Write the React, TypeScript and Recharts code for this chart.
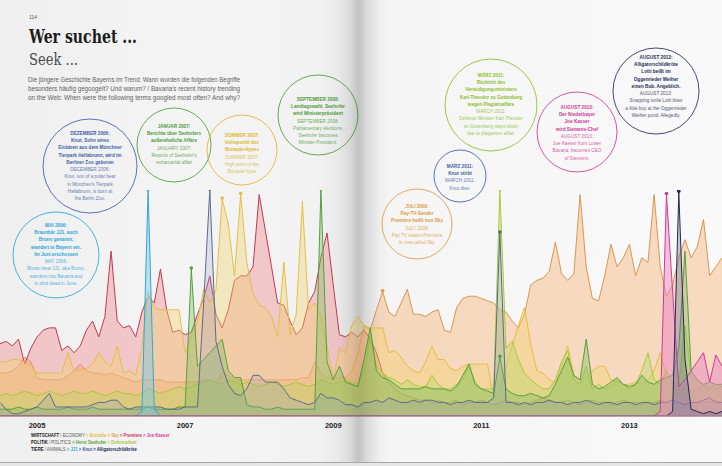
import React from "react";
import { ComposedChart, Area, XAxis, YAxis } from "recharts";

// monthly index: 0 = Jul 2004 ... 117 = Apr 2014
const yearTicks = [6, 30, 54, 78, 102];
const yearLabels = ["2005", "2007", "2009", "2011", "2013"];

const premiere = [
  32, 33, 31, 34, 23, 30, 35, 38, 39, 39,
  29, 31, 28, 31, 38, 42, 35, 44, 73, 42,
  39, 40, 35, 46, 53, 50, 65, 47, 37, 38,
  36, 37, 45, 52, 62, 45, 39, 47, 60, 62,
  62, 66, 98, 82, 66, 50, 49, 42, 36, 39,
  50, 55, 70, 81, 58, 36, 35, 37, 35, 38,
  34, 28, 19, 15, 12, 10, 9, 8, 7, 7,
  6, 7, 6, 6, 7, 5, 6, 6, 7, 6,
  5, 6, 7, 6, 6, 5, 6, 7, 8, 7,
  6, 6, 7, 6, 5, 6, 7, 6, 6, 5,
  6, 7, 6, 6, 5, 6, 6, 7, 6, 5,
  6, 5, 6, 5, 6, 6, 7, 6,
];

const sky = [
  19, 19, 20, 22, 26, 24, 17, 16, 16, 16,
  16, 18, 20, 23, 20, 19, 19, 18, 19, 18,
  17, 16, 15, 16, 16, 16, 16, 15, 15, 15,
  15, 15, 15, 16, 16, 15, 19, 18, 16, 16,
  16, 16, 16, 16, 16, 16, 16, 16, 16, 17,
  17, 24, 19, 17, 16, 17, 17, 20, 28, 40,
  38, 47, 55, 46, 44, 50, 56, 45, 45, 44,
  46, 47, 38, 37, 48, 52, 53, 53, 52, 51,
  50, 47, 46, 42, 39, 45, 58, 60, 61, 64,
  77, 63, 60, 63, 98, 66, 52, 51, 62, 76,
  66, 70, 76, 62, 70, 68, 98, 66, 53, 58,
  70, 78, 70, 75, 87, 62, 66, 70,
];

const bionade = [
  24, 24, 25, 25, 24, 22, 19, 19, 19, 19,
  19, 28, 20, 20, 21, 23, 28, 24, 22, 31,
  19, 20, 18, 30, 55, 48, 47, 47, 47, 47,
  28, 35, 42, 56, 50, 56, 96, 85, 62, 98,
  68, 54, 49, 48, 44, 35, 68, 36, 45, 95,
  47, 50, 44, 31, 16, 30, 28, 40, 44, 40,
  39, 39, 39, 28, 29, 26, 22, 20, 19, 24,
  31, 25, 25, 21, 20, 22, 23, 23, 23, 23,
  8, 12, 22, 31, 40, 48, 32, 20, 19, 16,
  15, 22, 31, 18, 16, 17, 20, 22, 22, 16,
  15, 14, 14, 15, 14, 16, 20, 28, 18, 14,
  12, 12, 11, 12, 13, 12, 12, 13,
];

const seehofer = [
  3, 3, 3, 4, 3, 3, 4, 3, 3, 3,
  3, 4, 3, 3, 3, 4, 3, 3, 3, 3,
  3, 3, 3, 3, 4, 3, 3, 3, 3, 4,
  4, 65, 22, 25, 28, 31, 34, 20, 17, 17,
  5, 4, 4, 3, 3, 4, 3, 3, 3, 3,
  3, 3, 100, 24, 16, 22, 15, 14, 13, 25,
  39, 20, 17, 16, 14, 12, 12, 12, 12, 13,
  12, 12, 12, 11, 13, 18, 23, 14, 12, 11,
  10, 26, 12, 10, 9, 9, 10, 9, 8, 9,
  14, 20, 26, 18, 16, 34, 14, 12, 13, 15,
  17, 14, 13, 14, 18, 15, 14, 16, 17, 18,
  30, 73, 20, 16, 14, 15, 14, 14,
];

const doktorarbeit = [
  9, 10, 9, 10, 11, 10, 9, 10, 11, 10,
  9, 10, 11, 10, 10, 11, 10, 9, 10, 11,
  10, 10, 9, 10, 12, 11, 10, 11, 12, 13,
  12, 13, 14, 15, 16, 15, 14, 16, 15, 14,
  15, 14, 13, 14, 15, 14, 13, 14, 15, 14,
  13, 14, 16, 15, 14, 15, 16, 15, 14, 20,
  35, 22, 19, 17, 16, 14, 16, 14, 13, 13,
  18, 14, 12, 12, 14, 16, 22, 15, 12, 12,
  12, 100, 30, 33, 25, 19, 16, 14, 12, 12,
  16, 24, 29, 16, 14, 22, 12, 14, 12, 13,
  16, 14, 12, 14, 20, 28, 16, 14, 20, 15,
  14, 40, 18, 15, 14, 13, 14, 13,
];

const knut = [
  6, 3, 1, 1, 2, 3, 4, 7, 10, 4,
  4, 4, 4, 4, 4, 5, 6, 6, 7, 7,
  4, 3, 4, 4, 4, 4, 4, 3, 3, 3,
  4, 4, 4, 50, 100, 33, 22, 14, 10, 9,
  12, 18, 18, 15, 15, 15, 12, 8, 7, 6,
  5, 6, 10, 8, 8, 7, 5, 5, 4, 6,
  6, 7, 6, 8, 7, 6, 6, 7, 6, 7,
  7, 6, 6, 5, 6, 6, 7, 6, 6, 6,
  8, 81, 6, 6, 5, 6, 5, 6, 6, 7,
  6, 6, 5, 6, 6, 7, 6, 5, 6, 6,
  5, 6, 6, 5, 6, 6, 5, 6, 6, 7,
  6, 5, 6, 6, 7, 8, 6, 6,
];

const jj1 = [
  0, 0, 0, 0, 0, 0, 0, 0, 0, 0,
  0, 0, 0, 0, 0, 0, 0, 0, 0, 0,
  0, 0, 0, 2, 100, 3, 0, 0, 0, 0,
  0, 0, 0, 0, 0, 0, 0, 0, 0, 0,
  0, 0, 0, 0, 0, 0, 0, 0, 0, 0,
  0, 0, 0, 0, 0, 0, 0, 0, 0, 0,
  0, 0, 0, 0, 0, 0, 0, 0, 0, 0,
  0, 0, 0, 0, 0, 0, 0, 0, 0, 0,
  0, 0, 0, 0, 0, 0, 0, 0, 0, 0,
  0, 0, 0, 0, 0, 0, 0, 0, 0, 0,
  0, 0, 0, 0, 0, 0, 0, 0, 0, 0,
  0, 0, 0, 0, 0, 0, 0, 0,
];

const kaeser = [
  0, 0, 0, 0, 0, 0, 0, 0, 0, 0,
  0, 0, 0, 0, 0, 0, 0, 0, 0, 0,
  0, 0, 0, 0, 0, 0, 0, 0, 0, 0,
  0, 0, 0, 0, 0, 0, 0, 0, 0, 0,
  0, 0, 0, 0, 0, 0, 0, 0, 0, 0,
  0, 0, 0, 0, 0, 0, 0, 0, 0, 0,
  0, 0, 0, 0, 0, 0, 0, 0, 0, 0,
  0, 0, 0, 0, 0, 0, 0, 0, 0, 0,
  0, 0, 0, 0, 0, 0, 0, 0, 0, 0,
  0, 0, 0, 0, 0, 0, 0, 0, 0, 0,
  0, 0, 0, 0, 0, 0, 0, 2, 98, 55,
  13, 16, 20, 24, 28, 15, 27, 22,
];

const alligator = [
  0, 0, 0, 0, 0, 0, 0, 0, 0, 0,
  0, 0, 0, 0, 0, 0, 0, 0, 0, 0,
  0, 0, 0, 0, 0, 0, 0, 0, 0, 0,
  0, 0, 0, 0, 0, 0, 0, 0, 0, 0,
  0, 0, 0, 0, 0, 0, 0, 0, 0, 0,
  0, 0, 0, 0, 0, 0, 0, 0, 0, 0,
  0, 0, 0, 0, 0, 0, 0, 0, 0, 0,
  0, 0, 0, 0, 0, 0, 0, 0, 0, 0,
  0, 0, 0, 0, 0, 0, 0, 0, 0, 0,
  0, 0, 0, 0, 0, 0, 0, 0, 0, 0,
  0, 0, 0, 0, 0, 0, 0, 0, 0, 2,
  99, 25, 3, 2, 1, 2, 1, 2,
];

// months that carry a little marker dot
const markers: Record<string, number[]> = {
  jj1: [24],
  knut: [34, 81],
  bionade: [36, 39],
  seehofer: [31, 52, 81],
  doktor: [81],
  sky: [62],
  kaeser: [108],
  alligator: [110],
};

const series = [
  { key: "sky", values: sky, stroke: "#d9974f", fill: "#f5b47a", op: 0.45 },
  { key: "premiere", values: premiere, stroke: "#c23a52", fill: "#ee8a92", op: 0.42 },
  { key: "bionade", values: bionade, stroke: "#e4bf45", fill: "#f2d36a", op: 0.38 },
  { key: "doktor", values: doktorarbeit, stroke: "#a9c93c", fill: "#bcd762", op: 0.4 },
  { key: "seehofer", values: seehofer, stroke: "#54a040", fill: "#86bd5e", op: 0.4 },
  { key: "knut", values: knut, stroke: "#5b6c8c", fill: "#8c9cbd", op: 0.22 },
  { key: "jj1", values: jj1, stroke: "#2ea7d6", fill: "#79c7e8", op: 0.45 },
  { key: "kaeser", values: kaeser, stroke: "#d03a97", fill: "#ec86c3", op: 0.5 },
  { key: "alligator", values: alligator, stroke: "#222a55", fill: "#636b92", op: 0.35 },
];

const data = premiere.map((_, i) => {
  const row: Record<string, number> = { m: i };
  series.forEach((s) => {
    row[s.key] = s.values[i];
  });
  return row;
});

const notes = [
  {
    cx: 90, cy: 166, r: 47, y0: 135, color: "#3d5fa3",
    de: ["DEZEMBER 2006:", "Knut, Sohn eines", "Eisbären aus dem Münchner", "Tierpark Hellabrunn, wird im", "Berliner Zoo geboren"],
    en: ["DECEMBER 2006:", "Knut, son of a polar bear", "in München's Tierpark", "Hellabrunn, is born at", "the Berlin Zoo."],
  },
  {
    cx: 56, cy: 255, r: 43, y0: 227, color: "#2aa6d6",
    de: ["MAI 2006:", "Braunbär JJ1, auch", "Bruno genannt,", "wandert in Bayern ein.", "Im Juni erschossen"],
    en: ["MAY 2006:", "Brown bear JJ1, aka Bruno,", "wanders into Bavaria and", "is shot dead in June."],
  },
  {
    cx: 174, cy: 145, r: 37, y0: 128, color: "#4c9a3c",
    de: ["JANUAR 2007:", "Berichte über Seehofers", "außereheliche Affäre"],
    en: ["JANUARY 2007:", "Reports of Seehofer's", "extramarital affair"],
  },
  {
    cx: 242, cy: 150, r: 35, y0: 137, color: "#e0b62c",
    de: ["SOMMER 2007:", "Höhepunkt des", "Bionade-Hypes"],
    en: ["SUMMER 2007:", "High point of the", "Bionade hype"],
  },
  {
    cx: 318, cy: 115, r: 40, y0: 101, color: "#4c9a3c",
    de: ["SEPTEMBER 2008:", "Landtagswahl, Seehofer", "wird Ministerpräsident"],
    en: ["SEPTEMBER 2008:", "Parliamentary elections,", "Seehofer becomes", "Minister President."],
  },
  {
    cx: 417, cy: 224, r: 35, y0: 208, color: "#dd9a45",
    de: ["JULI 2009:", "Pay-TV-Sender", "Premiere heißt nun Sky"],
    en: ["JULY 2009:", "Pay TV station Premiere", "is now called Sky"],
  },
  {
    cx: 460, cy: 176, r: 26, y0: 168, color: "#3d5fa3",
    de: ["MÄRZ 2011:", "Knut stirbt"],
    en: ["MARCH 2011:", "Knut dies."],
  },
  {
    cx: 491, cy: 105, r: 46, y0: 77, color: "#8dbd2e",
    de: ["MÄRZ 2011:", "Rücktritt des", "Verteidigungsministers", "Karl-Theodor zu Guttenberg", "wegen Plagiatsaffäre"],
    en: ["MARCH 2011:", "Defence Minister Karl-Theodor", "zu Guttenberg steps down", "due to plagiarism affair."],
  },
  {
    cx: 577, cy: 132, r: 40, y0: 109, color: "#cf3796",
    de: ["AUGUST 2013:", "Der Niederbayer", "Joe Kaeser", "wird Siemens-Chef"],
    en: ["AUGUST 2013:", "Joe Kaeser from Lower", "Bavaria, becomes CEO", "of Siemens."],
  },
  {
    cx: 656, cy: 91, r: 43, y0: 59, color: "#262c58",
    de: ["AUGUST 2013:", "Alligatorschildkröte", "Lotti beißt im", "Oggenrieder Weiher", "einen Bub. Angeblich."],
    en: ["AUGUST 2013:", "Snapping turtle Lotti bites", "a little boy at the Oggenrieder", "Weiher pond. Allegedly."],
  },
];

// legend rows: [text, colour, bold]
const legendRows: [string, string, boolean][][] = [
  [
    ["WIRTSCHAFT", "#222", true],
    [" / ECONOMY ", "#555", false],
    ["> Bionade ", "#e4bf45", true],
    ["> Sky ", "#e0a24a", true],
    ["> Premiere ", "#c23a52", true],
    ["> Joe Kaeser", "#d03a97", true],
  ],
  [
    ["POLITIK", "#222", true],
    [" / POLITICS ", "#555", false],
    ["> Horst Seehofer ", "#54a040", true],
    ["> Doktorarbeit", "#a9c93c", true],
  ],
  [
    ["TIERE", "#222", true],
    [" / ANIMALS ", "#555", false],
    ["> JJ1 ", "#2ea7d6", true],
    ["> Knut ", "#3d5fa3", true],
    ["> Alligatorschildkröte", "#222a55", true],
  ],
];

const font = "'Liberation Sans', Arial, sans-serif";

function markerDot(key: string, color: string) {
  return (props: any) => {
    const { cx, cy, index } = props;
    if (!markers[key] || !markers[key].includes(index)) {
      return <g key={`${key}-d-${index}`} />;
    }
    return <circle key={`${key}-d-${index}`} cx={cx} cy={cy - 1} r={1.8} fill={color} />;
  };
}

export default function App() {
  return (
    <div
      style={{
        position: "absolute",
        left: 0,
        top: 0,
        width: 722,
        height: 466,
        overflow: "hidden",
        background:
          "linear-gradient(to right, #efefef 0%, #f4f4f4 25%, #f2f2f2 44%, #e4e4e4 48.5%, #d4d4d4 49.6%, #e6e6e6 50.6%, #f5f5f5 54%, #f9f9f9 100%)",
      }}
    >
      <ComposedChart
        width={722}
        height={466}
        data={data}
        margin={{ top: 190, right: 0, bottom: 30, left: 0 }}
        style={{ position: "absolute", left: 0, top: 0 }}
      >
        <XAxis
          dataKey="m"
          type="number"
          domain={[0, 117]}
          ticks={yearTicks}
          tickFormatter={(v: number) => yearLabels[yearTicks.indexOf(v)] ?? ""}
          height={20}
          tickSize={0}
          tickMargin={7}
          tickLine={false}
          axisLine={{ stroke: "#b57d8c", strokeWidth: 1.5 }}
          tick={{ fontSize: 7.5, fontWeight: 700, fill: "#222", fontFamily: font }}
          interval={0}
        />
        <YAxis hide domain={[0, 100]} allowDataOverflow />
        {series.map((s) => (
          <Area
            key={s.key}
            type="linear"
            dataKey={s.key}
            stroke={s.stroke}
            strokeWidth={1}
            fill={s.fill}
            fillOpacity={s.op}
            dot={markerDot(s.key, s.stroke)}
            activeDot={false}
            isAnimationActive={false}
          />
        ))}
      </ComposedChart>

      <svg
        width={722}
        height={466}
        style={{ position: "absolute", left: 0, top: 0, pointerEvents: "none" }}
      >
        <defs>
          <linearGradient id="fold" x1="0" x2="1" y1="0" y2="0">
            <stop offset="0" stopColor="#000" stopOpacity="0" />
            <stop offset="0.55" stopColor="#000" stopOpacity="0.09" />
            <stop offset="0.7" stopColor="#000" stopOpacity="0.05" />
            <stop offset="1" stopColor="#000" stopOpacity="0" />
          </linearGradient>
        </defs>

        <text x={29} y={19} fontSize={5} fill="#555" fontFamily={font}>114</text>
        <text
          x={29}
          y={43}
          fontSize={19}
          fontWeight={700}
          fill="#1c1c1c"
          fontFamily="'DejaVu Serif', serif"
          textLength={108}
          lengthAdjust="spacingAndGlyphs"
        >
          Wer suchet ...
        </text>
        <text
          x={29}
          y={65}
          fontSize={17}
          fill="#4a4a4a"
          fontFamily="'DejaVu Serif', serif"
          textLength={49}
          lengthAdjust="spacingAndGlyphs"
        >
          Seek ...
        </text>
        {[
          "Die jüngere Geschichte Bayerns im Trend: Wann wurden die folgenden Begriffe",
          "besonders häufig gegoogelt? Und warum? / Bavaria's recent history trending",
          "on the Web: When were the following terms googled most often? And why?",
        ].map((t, i) => (
          <text
            key={i}
            x={28}
            y={82 + i * 9}
            fontSize={6.4}
            fill="#626262"
            fontFamily={font}
            textLength={212}
            lengthAdjust="spacingAndGlyphs"
          >
            {t}
          </text>
        ))}

        {notes.map((n, k) => (
          <g key={k}>
            <circle cx={n.cx} cy={n.cy} r={n.r} fill="none" stroke={n.color} strokeWidth={1} opacity={0.85} />
            <g transform={`translate(${n.cx} 0) scale(0.78 1)`} fontFamily={font}>
              {n.de.map((t, i) => (
                <text key={`d${i}`} x={0} y={n.y0 + i * 7.25} textAnchor="middle" fontSize={6} fontWeight={700} fill={n.color}>
                  {t}
                </text>
              ))}
              {n.en.map((t, i) => (
                <text
                  key={`e${i}`}
                  x={0}
                  y={n.y0 + (n.de.length + i) * 7.25}
                  textAnchor="middle"
                  fontSize={6}
                  fill={n.color}
                  opacity={0.8}
                >
                  {t}
                </text>
              ))}
            </g>
          </g>
        ))}

        {legendRows.map((row, r) => (
          <g key={r} transform={`translate(31 ${437 + r * 7}) scale(0.82 1)`} fontFamily={font} fontSize={5.2}>
            <text x={0} y={0}>
              {row.map(([t, c, b], j) => (
                <tspan key={j} fill={c} fontWeight={b ? 700 : 400}>
                  {t}
                </tspan>
              ))}
            </text>
          </g>
        ))}

        <rect x={338} y={0} width={42} height={466} fill="url(#fold)" />
        <line x1={0} x2={722} y1={462.5} y2={462.5} stroke="#a8a8a8" strokeWidth={1} />
        <rect x={0} y={463} width={722} height={3} fill="#e6e6e6" />
      </svg>
    </div>
  );
}
